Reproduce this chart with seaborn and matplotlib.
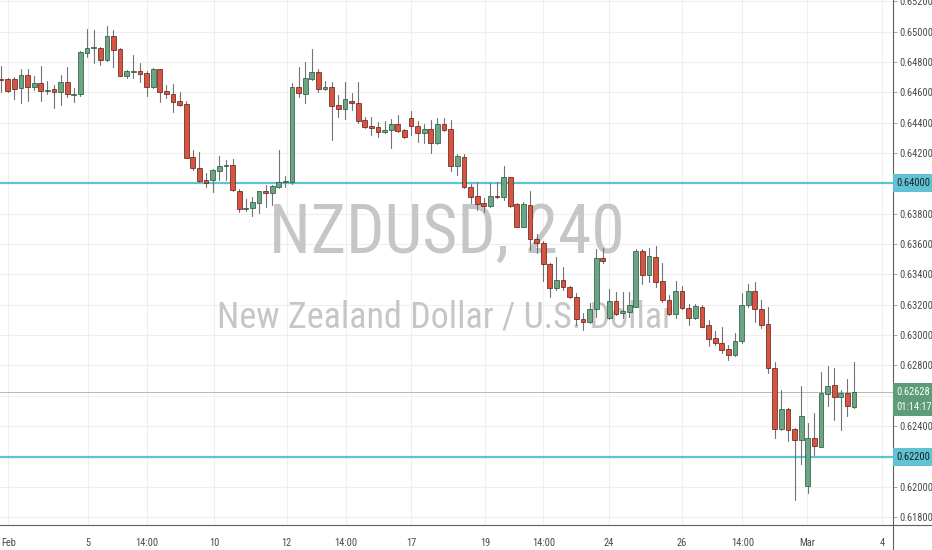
import numpy as np
import pandas as pd
import seaborn as sns
import matplotlib.pyplot as plt
import matplotlib.transforms as mtransforms
from matplotlib import font_manager
from matplotlib.lines import Line2D

# NZDUSD 4h candles
opens = [0.64690, 0.64685, 0.64685, 0.64626, 0.64714, 0.64637, 0.64659, 0.64606, 0.64619, 0.64604,
         0.64665, 0.64582, 0.64589, 0.64861, 0.64889, 0.64892, 0.64813, 0.64973, 0.64883, 0.64709,
         0.64733, 0.64742, 0.64725, 0.64632, 0.64751, 0.64610, 0.64589, 0.64540, 0.64520, 0.64171,
         0.64103, 0.64022, 0.64022, 0.64083, 0.64114, 0.64121, 0.63952, 0.63829, 0.63835, 0.63873,
         0.63952, 0.63939, 0.63978, 0.64011, 0.64007, 0.64632, 0.64586, 0.64690, 0.64736, 0.64624,
         0.64632, 0.64518, 0.64488, 0.64545, 0.64531, 0.64417, 0.64376, 0.64369, 0.64338, 0.64351,
         0.64391, 0.64351, 0.64428, 0.64380, 0.64329, 0.64358, 0.64268, 0.64393, 0.64358, 0.64112,
         0.64176, 0.63974, 0.63917, 0.63870, 0.63853, 0.63919, 0.63908, 0.64042, 0.63864, 0.63715,
         0.63857, 0.63631, 0.63609, 0.63469, 0.63308, 0.63363, 0.63319, 0.63253, 0.63108, 0.63089,
         0.63173, 0.63507, 0.63111, 0.63226, 0.63144, 0.63155, 0.63188, 0.63557, 0.63397, 0.63518,
         0.63357, 0.63232, 0.63142, 0.63291, 0.63182, 0.63111, 0.63188, 0.63067, 0.62980, 0.62947,
         0.62907, 0.62870, 0.62958, 0.63199, 0.63291, 0.63171, 0.63074, 0.62782, 0.62382, 0.62512,
         0.62382, 0.62310, 0.62007, 0.62319, 0.62266, 0.62611, 0.62670, 0.62591, 0.62617, 0.62529]
highs = [0.64773, 0.64692, 0.64703, 0.64751, 0.64751, 0.64707, 0.64773, 0.64676, 0.64648, 0.64714,
         0.64769, 0.64626, 0.64874, 0.65015, 0.65010, 0.64900, 0.65037, 0.65010, 0.64889, 0.64747,
         0.64845, 0.64795, 0.64742, 0.64758, 0.64752, 0.64648, 0.64652, 0.64604, 0.64542, 0.64220,
         0.64209, 0.64066, 0.64092, 0.64180, 0.64154, 0.64158, 0.63960, 0.63895, 0.63912, 0.63952,
         0.63989, 0.63989, 0.64220, 0.64051, 0.64659, 0.64769, 0.64797, 0.64885, 0.64751, 0.64676,
         0.64670, 0.64582, 0.64670, 0.64593, 0.64665, 0.64439, 0.64435, 0.64406, 0.64413, 0.64422,
         0.64450, 0.64356, 0.64479, 0.64413, 0.64391, 0.64417, 0.64428, 0.64428, 0.64417, 0.64193,
         0.64193, 0.63996, 0.64011, 0.63901, 0.64000, 0.64007, 0.64114, 0.64044, 0.63868, 0.63879,
         0.63952, 0.63666, 0.63622, 0.63477, 0.63512, 0.63447, 0.63324, 0.63275, 0.63144, 0.63209,
         0.63566, 0.63573, 0.63302, 0.63287, 0.63287, 0.63287, 0.63566, 0.63566, 0.63573, 0.63588,
         0.63478, 0.63265, 0.63357, 0.63324, 0.63206, 0.63204, 0.63199, 0.63100, 0.63030, 0.63052,
         0.62936, 0.63017, 0.63276, 0.63338, 0.63349, 0.63232, 0.63188, 0.62826, 0.62639, 0.62518,
         0.62387, 0.62666, 0.62420, 0.62490, 0.62760, 0.62797, 0.62782, 0.62639, 0.62710, 0.62826]
lows = [0.64604, 0.64604, 0.64553, 0.64531, 0.64545, 0.64615, 0.64545, 0.64589, 0.64494, 0.64516,
        0.64567, 0.64538, 0.64575, 0.64830, 0.64791, 0.64780, 0.64808, 0.64764, 0.64707, 0.64692,
        0.64692, 0.64670, 0.64575, 0.64626, 0.64538, 0.64560, 0.64472, 0.64509, 0.64165, 0.64088,
        0.64011, 0.63978, 0.63945, 0.64022, 0.64022, 0.63952, 0.63813, 0.63820, 0.63785, 0.63802,
        0.63846, 0.63857, 0.63967, 0.63978, 0.63996, 0.64567, 0.64527, 0.64681, 0.64604, 0.64615,
        0.64285, 0.64435, 0.64424, 0.64483, 0.64395, 0.64362, 0.64318, 0.64307, 0.64329, 0.64231,
        0.64340, 0.64296, 0.64318, 0.64274, 0.64268, 0.64202, 0.64259, 0.64347, 0.64083, 0.64055,
        0.63967, 0.63868, 0.63824, 0.63813, 0.63842, 0.63901, 0.63890, 0.63846, 0.63710, 0.63710,
        0.63561, 0.63543, 0.63359, 0.63253, 0.63297, 0.63297, 0.63242, 0.63067, 0.63034, 0.63078,
        0.63122, 0.63478, 0.63105, 0.63133, 0.63111, 0.63118, 0.63184, 0.63338, 0.63353, 0.63316,
        0.63221, 0.63133, 0.63111, 0.63171, 0.63067, 0.63105, 0.63052, 0.62929, 0.62936, 0.62881,
        0.62837, 0.62863, 0.62951, 0.63184, 0.63089, 0.63045, 0.62749, 0.62321, 0.62376, 0.62305,
        0.61915, 0.62152, 0.61963, 0.62211, 0.62261, 0.62534, 0.62442, 0.62376, 0.62464, 0.62518]
closes = [0.64679, 0.64610, 0.64621, 0.64714, 0.64637, 0.64659, 0.64608, 0.64613, 0.64604, 0.64665,
          0.64589, 0.64589, 0.64863, 0.64894, 0.64896, 0.64813, 0.64973, 0.64878, 0.64709, 0.64740,
          0.64740, 0.64720, 0.64632, 0.64751, 0.64604, 0.64589, 0.64534, 0.64518, 0.64169, 0.64103,
          0.64018, 0.64000, 0.64088, 0.64116, 0.64121, 0.63956, 0.63829, 0.63840, 0.63875, 0.63950,
          0.63939, 0.63985, 0.64007, 0.64018, 0.64632, 0.64593, 0.64696, 0.64736, 0.64624, 0.64632,
          0.64512, 0.64488, 0.64553, 0.64531, 0.64413, 0.64371, 0.64367, 0.64340, 0.64351, 0.64391,
          0.64347, 0.64303, 0.64378, 0.64329, 0.64358, 0.64264, 0.64391, 0.64351, 0.64112, 0.64182,
          0.63974, 0.63912, 0.63864, 0.63853, 0.63919, 0.63908, 0.64042, 0.63853, 0.63715, 0.63864,
          0.63631, 0.63605, 0.63469, 0.63308, 0.63363, 0.63315, 0.63253, 0.63104, 0.63089, 0.63170,
          0.63507, 0.63491, 0.63226, 0.63138, 0.63160, 0.63199, 0.63557, 0.63397, 0.63524, 0.63349,
          0.63232, 0.63138, 0.63291, 0.63177, 0.63111, 0.63193, 0.63056, 0.62973, 0.62947, 0.62903,
          0.62870, 0.62958, 0.63199, 0.63291, 0.63171, 0.63067, 0.62782, 0.62382, 0.62512, 0.62376,
          0.62310, 0.62464, 0.62319, 0.62270, 0.62617, 0.62666, 0.62591, 0.62617, 0.62534, 0.62628]

date_labels = ["Feb", "5", "14:00", "10", "12", "14:00", "17", "19", "14:00", "24", "26", "14:00", "Mar", "4"]
date_bars = [1.1, 13.1, 22.1, 32.2, 43.2, 52.2, 62.0, 73.2, 82.0, 91.9, 103.0, 112.1, 121.9, 133.2]
price_ticks = np.round(np.arange(0.618, 0.6521, 0.002), 3)
levels = [0.640, 0.622]
last_price = 0.62628
countdown = "01:14:17"
symbol = "NZDUSD, 240"
description = "New Zealand Dollar / U.S. Dollar"

UP, UP_EDGE = "#6ba583", "#225437"
DOWN, DOWN_EDGE = "#d75442", "#5b1a13"
WICK = "#737375"
LEVEL = "#5fc3d4"
PRICE_BOX = "#5c9c78"
GRID = "#efefef"
TEXT = "#4a4a4a"
AXIS = "#5e5e5e"

sns.set_theme(style="white")
installed = {f.name for f in font_manager.fontManager.ttflist}
narrow = next((n for n in ["Liberation Sans Narrow", "Roboto Condensed", "Open Sans Condensed"]
               if n in installed), "Roboto")
plt.rcParams["font.family"] = [narrow, "DejaVu Sans"]

W, H = 932, 550
ax_right, ax_bottom = 892.7, 525.3
fig = plt.figure(figsize=(W / 100, H / 100), dpi=100)
fig.patch.set_facecolor("white")
ax = fig.add_axes([0, (H - ax_bottom) / H, ax_right / W, ax_bottom / H])
ax.set_facecolor("white")

df = pd.DataFrame({"open": opens, "high": highs, "low": lows, "close": closes})
df["bar"] = np.arange(len(df))
df["up"] = df["close"] >= df["open"]

# wicks: one vertical segment per bar
wicks = df.melt(id_vars="bar", value_vars=["low", "high"], value_name="price")
sns.lineplot(data=wicks, x="bar", y="price", units="bar", estimator=None,
             color=WICK, linewidth=0.8, legend=False, ax=ax, zorder=3)

# bodies
body_bottom = df[["open", "close"]].min(axis=1)
body_height = (df["close"] - df["open"]).abs().clip(lower=0.00005)
ax.bar(df["bar"], body_height, bottom=body_bottom, width=0.72,
       color=np.where(df["up"], UP, DOWN), edgecolor=np.where(df["up"], UP_EDGE, DOWN_EDGE),
       linewidth=0.5, zorder=4)

# horizontal levels and last-price line
for lv in levels:
    ax.axhline(lv, color=LEVEL, linewidth=1.6, zorder=2)
ax.axhline(last_price, color="#a9c2b4", linewidth=0.7, zorder=2)

ax.set_xlim(-0.166, 134.85)
ax.set_ylim(0.61747, 0.65208)
ax.set_xlabel("")
ax.set_ylabel("")

ax.set_xticks(date_bars)
ax.set_xticklabels(date_labels)
ax.yaxis.tick_right()
ax.set_yticks(price_ticks)
# the scale hides plain labels that sit under the level / price boxes
hidden = set(levels) | {round(last_price, 3)}
ax.set_yticklabels(["" if t in hidden else f"{t:.5f}" for t in price_ticks])
ax.tick_params(axis="x", length=3, width=0.6, pad=6, labelsize=7.5, color="#9a9a9a", labelcolor=TEXT)
ax.tick_params(axis="y", length=3, width=0.6, pad=2, labelsize=7.5, color="#9a9a9a", labelcolor=TEXT)
ax.grid(True, color=GRID, linewidth=0.8)
ax.set_axisbelow(True)

for side in ["top", "left"]:
    ax.spines[side].set_visible(False)
for side in ["right", "bottom"]:
    ax.spines[side].set_color(AXIS)
    ax.spines[side].set_linewidth(0.8)
# the axis lines run on to the edges of the image
fig.add_artist(Line2D([ax_right / W, ax_right / W], [0, (H - ax_bottom) / H],
                      transform=fig.transFigure, color=AXIS, linewidth=0.8))
fig.add_artist(Line2D([ax_right / W, 1], [(H - ax_bottom) / H] * 2,
                      transform=fig.transFigure, color=AXIS, linewidth=0.8))

# watermark
wm1 = ax.text(0.5007, 0.5184, symbol, transform=ax.transAxes, ha="center", va="baseline",
              fontsize=60, color="#c6c6c6", zorder=1)
wm2 = ax.text(0.4985, 0.3756, description, transform=ax.transAxes, ha="center", va="baseline",
              fontsize=28, color="#c6c6c6", zorder=1)
fig.canvas.draw()
renderer = fig.canvas.get_renderer()
for txt, target in [(wm1, 356), (wm2, 454)]:
    w = txt.get_window_extent(renderer).width
    txt.set_fontsize(txt.get_fontsize() * target / w)

# price-scale labels
yb = mtransforms.blended_transform_factory(ax.transAxes, ax.transData)
box_tr = mtransforms.offset_copy(yb, fig=fig, x=4, y=0, units="dots")
for lv in levels:
    ax.text(1.0, lv, f"{lv:.5f}", transform=box_tr, ha="left", va="center", fontsize=7.5,
            color="#1e1e1e", clip_on=False, zorder=10,
            bbox=dict(boxstyle="square,pad=0.38", fc=LEVEL, ec="none"))
ax.text(1.0, last_price, f"{last_price:.5f}", transform=box_tr, ha="left", va="center",
        fontsize=7.5, color="white", clip_on=False, zorder=10,
        bbox=dict(boxstyle="square,pad=0.38", fc=PRICE_BOX, ec="none"))
time_tr = mtransforms.offset_copy(yb, fig=fig, x=4, y=-15.5, units="dots")
ax.text(1.0, last_price, countdown, transform=time_tr, ha="left", va="center",
        fontsize=7.5, color="white", clip_on=False, zorder=10,
        bbox=dict(boxstyle="square,pad=0.38", fc=PRICE_BOX, ec="none"))

fig.savefig("out.png", dpi=100)
